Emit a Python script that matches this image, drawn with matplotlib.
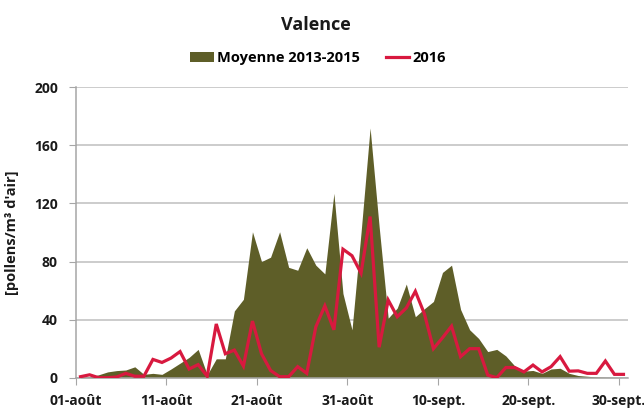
import numpy as np
import matplotlib
matplotlib.use("Agg")
import matplotlib.pyplot as plt
from matplotlib.patches import Patch
from matplotlib.lines import Line2D

# daily pollen counts, 01-août .. 30-sept
moyenne = [0.3, 0.5, 2, 4, 4.9, 5.3, 7.5, 2.3, 3, 2.3,
           6, 10, 14, 19.5, 2, 13, 13, 46, 54, 100.5,
           80, 83, 100.5, 76, 74, 89.5, 77.5, 71.5, 127, 58,
           33, 100, 172, 104, 41, 48, 64.5, 42, 47.5, 52.5,
           72.5, 77.5, 47, 33, 27, 18, 19.5, 15, 8, 4.5,
           5, 3, 6, 6.5, 3, 1.5, 1, 0.5, 0.3, 0.2, 0]
annee_2016 = [0.7, 2, 0, 0, 0.5, 3, 1, 1, 12.6, 10.5,
              13.5, 18, 6, 9, 1, 37, 16.5, 19, 8, 39,
              16.5, 5, 0.7, 0.7, 7.6, 3, 35, 49.5, 33, 88.5,
              84, 72, 111, 21, 53.5, 42, 48, 59.5, 44, 20,
              27.5, 35.5, 14.5, 20, 20, 1.8, 0, 7, 7, 4,
              8.7, 4, 7.6, 14.5, 4.5, 4.7, 3, 3, 11.5, 2.3, 2.3]
tick_labels = ['01-août', '11-août', '21-août', '31-août',
               '10-sept.', '20-sept.', '30-sept.']
y_ticks = [0, 40, 80, 120, 160, 200]

OLIVE = '#5e5e28'
RED = '#d8193f'
GRID = '#bfbfbf'
TXT = '#1a1a1a'

plt.rcParams['font.family'] = ['Open Sans', 'DejaVu Sans']
plt.rcParams['font.weight'] = 'bold'

fig = plt.figure(figsize=(6.44, 4.12), dpi=100)
ax = fig.add_axes([76 / 644, 1 - 377.7 / 412, 552 / 644, 290.4 / 412])

x = np.arange(len(moyenne)) + 0.5
ax.fill_between(x, 0, moyenne, color=OLIVE, linewidth=0, zorder=2)
ax.plot(x, annee_2016, color=RED, linewidth=2.3, zorder=3,
        solid_joinstyle='miter')

ax.set_xlim(0, 61)
ax.set_ylim(0, 200)
ax.set_xticks(np.arange(0, 61, 10))
ax.set_xticklabels(tick_labels, fontsize=10, fontweight='bold')
ax.set_yticks(y_ticks)
ax.set_yticklabels([str(v) for v in y_ticks], fontsize=10, fontweight='bold')
ax.yaxis.grid(True, color=GRID, linewidth=1.1, zorder=0)
ax.set_axisbelow(True)

for side in ['top', 'right']:
    ax.spines[side].set_visible(False)
for side in ['left', 'bottom']:
    ax.spines[side].set_color('#a6a6a6')
    ax.spines[side].set_linewidth(1.1)
ax.tick_params(axis='x', length=5, color='#a6a6a6', pad=7, labelcolor=TXT)
ax.tick_params(axis='y', length=5, color='#a6a6a6', pad=8, labelcolor=TXT)

ax.set_ylabel("[pollens/m³ d'air]", fontsize=10.5, fontweight='bold',
              color=TXT, labelpad=11)

fig.text(316 / 644, 1 - 25 / 412, 'Valence', ha='center', va='center',
         fontsize=13, fontweight='bold', color=TXT)

handles = [Patch(facecolor=OLIVE, edgecolor='none'),
           Line2D([0], [0], color=RED, linewidth=2.3)]
fig.legend(handles, ['Moyenne 2013-2015', '2016'], loc='center',
           bbox_to_anchor=(318 / 644, 1 - 58 / 412), ncol=2, frameon=False,
           prop={'size': 10.5, 'weight': 'bold'}, handlelength=1.6,
           handletextpad=0.2, columnspacing=1.8)

fig.savefig('out.png', dpi=100)
